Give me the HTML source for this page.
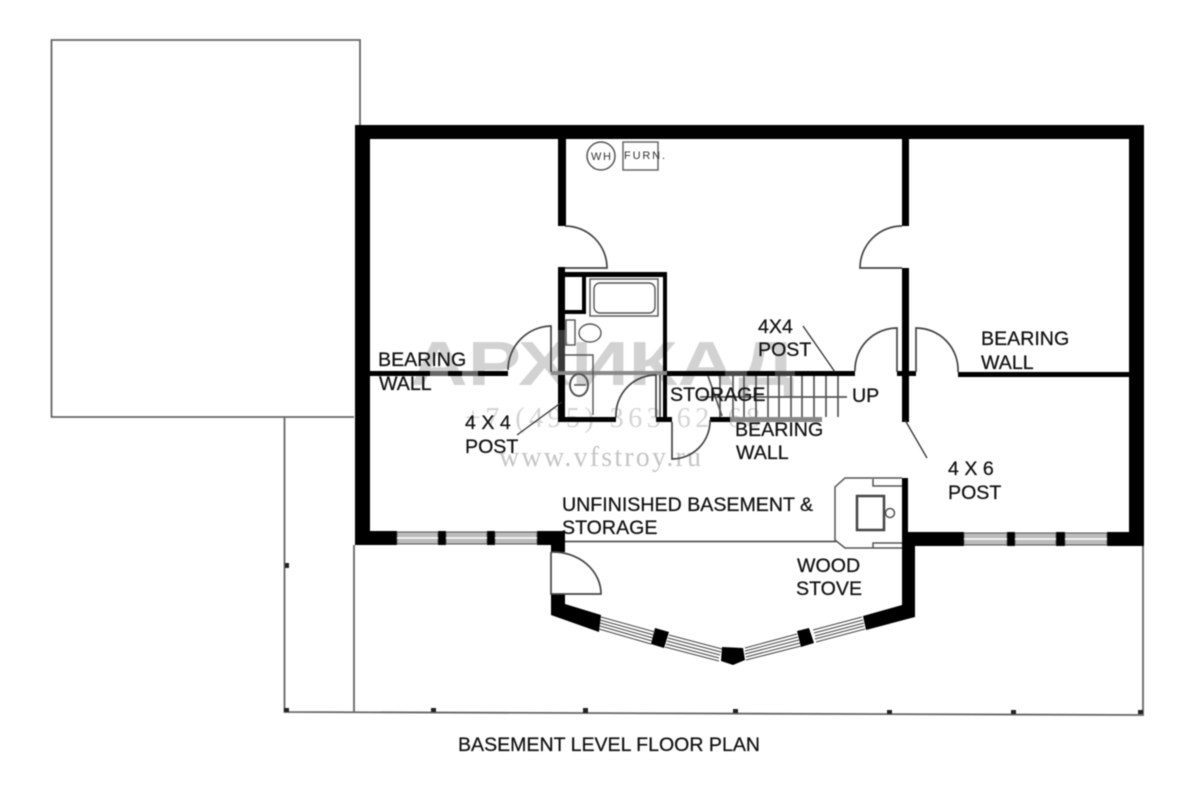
<!DOCTYPE html>
<html><head><meta charset="utf-8"><style>
html,body{margin:0;padding:0;background:#fff}
svg{display:block;filter:blur(.4px)}
text{font-family:"Liberation Sans",sans-serif;fill:#111;font-size:19.6px;stroke:#111;stroke-width:.25px}
.wm{stroke:none}
.g{fill:none;stroke:#666;stroke-width:1.8}
.d{fill:none;stroke:#444;stroke-width:1.7}
.t{fill:none;stroke:#555;stroke-width:1.7}
.w{fill:#bbb;stroke:#555;stroke-width:1}
</style></head><body>
<svg width="1200" height="801" viewBox="0 0 1200 801" xmlns="http://www.w3.org/2000/svg">
<rect width="1200" height="801" fill="#fff"/>
<!-- watermark -->
<g>
<text class="wm" x="410" y="385" textLength="385" lengthAdjust="spacingAndGlyphs" style="font-size:62px;font-weight:bold;fill:#d2d2d2;font-family:'Liberation Sans',sans-serif">АРХИКАД</text>
<text class="wm" x="465" y="427" textLength="295" lengthAdjust="spacing" style="font-size:28px;fill:#d4d4d4;font-family:'Liberation Serif',serif">+7 (495) 363 62-68</text>
<text class="wm" x="499" y="466" textLength="202" lengthAdjust="spacing" style="font-size:28px;fill:#c4c4c4;font-family:'Liberation Serif',serif">www.vfstroy.ru</text>
</g>
<!-- outlines -->
<path class="g" d="M360 125V40H51.500V417H354M284.500 417V712L1143 715V546M354 545V712"/>
<g fill="#222">
<rect x="285" y="563" width="4" height="5"/><rect x="284" y="708" width="5" height="4"/>
<rect x="431" y="708" width="5" height="4"/><rect x="583" y="708" width="5" height="5"/>
<rect x="733" y="709" width="5" height="4"/><rect x="887" y="710" width="5" height="4"/>
<rect x="1011" y="710" width="5" height="4"/><rect x="1138" y="710" width="5" height="4"/>
</g>
<!-- exterior walls -->
<g fill="#000">
<rect x="356" y="125" width="788" height="14"/>
<rect x="355" y="125" width="15" height="420"/>
<rect x="1129" y="125" width="15" height="421"/>
<rect x="355" y="531" width="42" height="14"/>
<rect x="537" y="531" width="28" height="14"/>
<rect x="551" y="531" width="14" height="21"/>
<rect x="438" y="531" width="8" height="14"/><rect x="487" y="531" width="8" height="14"/>
<rect x="902" y="532" width="62" height="14"/>
<rect x="1007" y="532" width="8" height="14"/><rect x="1056" y="532" width="9" height="14"/>
<rect x="1107" y="532" width="37" height="14"/>
<rect x="902" y="478" width="6" height="60"/>
<polygon points="902,532 915,532 915,617 866,630 863,616 902,605"/>
<polygon points="551,594 565,594 565,604 601,615 599,632 551,615"/>
<polygon points="655,628 669,632 664,648 651,644"/>
<polygon points="722,647 743,648 745,660 733,665 721,661"/>
<polygon points="797,631 809,628 814,643 801,647"/>
<!-- interior walls -->
<rect x="558" y="139" width="8" height="87"/>
<rect x="902" y="139" width="7" height="87"/>
<rect x="902" y="268" width="7" height="154"/>
<rect x="558" y="267" width="7" height="154"/>
<rect x="558" y="272" width="109" height="5"/>
<rect x="663" y="272" width="4" height="149"/>
<rect x="558" y="417" width="58" height="5"/>
<rect x="656" y="417" width="16" height="5"/>
<rect x="710" y="417" width="22" height="5"/>
<rect x="582" y="277" width="4" height="37"/>
<rect x="565" y="310" width="21" height="4"/>
<rect x="370" y="371" width="138" height="5"/>
<rect x="667" y="371" width="188" height="5"/>
<rect x="897" y="371" width="19" height="5"/>
<rect x="958" y="372" width="172" height="5"/>
</g>
<rect x="551" y="371" width="116" height="4" fill="#8a8a8a"/>
<rect x="730" y="417" width="92" height="5" fill="#888"/>
<!-- watermark over walls -->
<g fill="#666">
<rect x="430" y="371" width="18" height="5"/><rect x="462" y="371" width="16" height="5"/>
<rect x="558" y="330" width="7" height="42" opacity=".55"/>
<rect x="725" y="371" width="22" height="5" opacity=".7"/>
<rect x="775" y="371" width="20" height="5" opacity=".6"/>
</g>
<!-- windows -->
<g class="w">
<rect x="397" y="532" width="41" height="12"/><rect x="446" y="532" width="41" height="12"/><rect x="495" y="532" width="42" height="12"/>
<rect x="964" y="533" width="43" height="12"/><rect x="1015" y="533" width="41" height="12"/><rect x="1065" y="533" width="42" height="12"/>
</g>
<g stroke="#fff" stroke-width="1.500">
<path d="M397 538H438M446 538H487M495 538H537M964 539H1007M1015 539H1056M1065 539H1107"/>
</g>
<g fill="none" stroke="#444" stroke-width="1">
<path d="M601 617L655 632M600 620L654 635M600 623L653 638M600 626L652 641M599 629L651 644"/>
<path d="M669 635L722 649M668 638L721 652M667 641L720 655M666 644L719 658M665 647L719 661"/>
<path d="M745 648L797 634M745 651L798 637M745 654L799 640M746 657L800 643M746 660L801 646"/>
<path d="M813 630L862 617M814 633L863 620M815 636L864 623M815 639L864 626M816 642L865 629"/>
</g>
<!-- doors -->
<g class="d">
<path d="M565 226A42 42 0 0 1 607 268H565"/>
<path d="M551 372V326A44 44 0 0 0 508 370"/>
<path d="M902 226A42 42 0 0 0 860 268H902"/>
<path d="M897 372V328A42 42 0 0 0 855 371"/>
<path d="M916 372V328A42 42 0 0 1 958 372"/>
<path d="M656 417V375A40 40 0 0 0 616 417"/>
<path d="M660 375V417"/>
<path d="M672 422V459A38 38 0 0 0 710 420"/>
<path d="M551 552V594H601A48 42 0 0 0 552 552"/>
</g>
<!-- stairs -->
<g class="t">
<path d="M720 417V376M733 417V376M744 417V376M756 417V376M768 417V376M779 417V376M791 417V376M802 417V376M814 417V376M826 417V376M838 417V376"/>
<path d="M700 397H847M708 376L722 416"/>
</g>
<path d="M803 326L835 372M905 420L927 458M517 435L562 402" fill="none" stroke="#333" stroke-width="1.300"/>
<!-- bath fixtures -->
<g fill="none" stroke="#555" stroke-width="1.400">
<rect x="590" y="279" width="68" height="37"/>
<rect x="594" y="283" width="61" height="30" rx="6"/>
<rect x="566" y="320" width="9" height="25"/>
<ellipse cx="590" cy="333" rx="11" ry="9"/>
<path d="M565 355H593V415"/>
<ellipse cx="579" cy="385" rx="9" ry="11" stroke-width="2"/>
<path d="M574 385H586" stroke-width="1.500"/>
</g>
<!-- WH furn -->
<circle cx="601" cy="156" r="14" fill="none" stroke="#555" stroke-width="1.500"/>
<rect x="623" y="142" width="35" height="28" fill="none" stroke="#666" stroke-width="1.500"/>
<text x="591" y="160" style="font-size:11px;fill:#333;stroke:none" textLength="20">WH</text>
<text x="624" y="159" style="font-size:11px;fill:#333;stroke:none" textLength="41">FURN.</text>
<!-- stove -->
<g fill="none" stroke="#555" stroke-width="1.500">
<path d="M902 478H845L835 487V540L845 548H902"/>
<path d="M873 479V486H902M873 548V543H902"/>
<circle cx="890" cy="513" r="4.500"/>
<path d="M565 541.500H836" stroke-width="1.700"/>
</g>
<rect x="857" y="496" width="27" height="34" fill="none" stroke="#444" stroke-width="2.500"/>
<!-- labels -->
<text x="378" y="366">BEARING</text>
<text x="379" y="390">WALL</text>
<text x="465" y="429">4 X 4</text>
<text x="465" y="453">POST</text>
<text x="758" y="333">4X4</text>
<text x="758" y="356">POST</text>
<text x="670" y="401">STORAGE</text>
<text x="852" y="402">UP</text>
<text x="735" y="436">BEARING</text>
<text x="736" y="459">WALL</text>
<text x="981" y="345">BEARING</text>
<text x="981" y="369">WALL</text>
<text x="948" y="475">4 X 6</text>
<text x="948" y="499">POST</text>
<text x="562" y="511">UNFINISHED BASEMENT &amp;</text>
<text x="562" y="534">STORAGE</text>
<text x="797" y="572">WOOD</text>
<text x="796" y="595">STOVE</text>
<text x="458" y="751" style="font-size:19.500px" textLength="302" lengthAdjust="spacingAndGlyphs">BASEMENT LEVEL FLOOR PLAN</text>
</svg>
</body></html>
